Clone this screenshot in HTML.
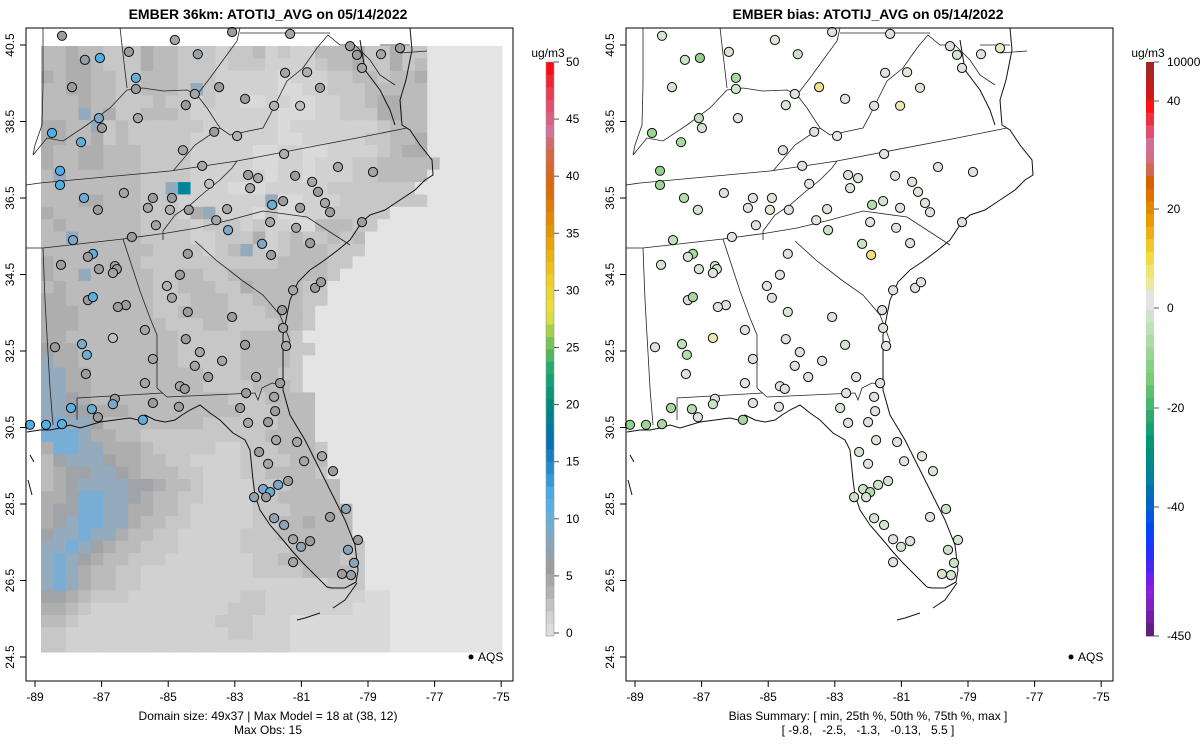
<!DOCTYPE html>
<html><head><meta charset="utf-8"><style>
body{margin:0;background:#fff}
svg{display:block;font-family:"Liberation Sans",sans-serif}
</style></head><body>
<svg id="root" width="1200" height="750" viewBox="0 0 1200 750" xmlns="http://www.w3.org/2000/svg">
<rect width="1200" height="750" fill="#fff"/>
<text x="268" y="19" text-anchor="middle" font-size="14" font-weight="bold">EMBER 36km: ATOTIJ_AVG on 05/14/2022</text>
<text x="868" y="19" text-anchor="middle" font-size="14" font-weight="bold">EMBER bias: ATOTIJ_AVG on 05/14/2022</text>
<g id="leftPanel"><g id="gridG"></g></g>
<g id="rightPanel" transform="translate(600,0)"></g>
<text x="268" y="720" text-anchor="middle" font-size="12">Domain size: 49x37 | Max Model = 18 at (38, 12)</text>
<text x="268" y="734" text-anchor="middle" font-size="12">Max Obs: 15</text>
<text x="868" y="720" text-anchor="middle" font-size="12">Bias Summary: [ min, 25th %, 50th %, 75th %, max ]</text>
<text x="868" y="734" text-anchor="middle" font-size="12" xml:space="preserve">[ -9.8,   -2.5,   -1.3,   -0.13,   5.5 ]</text>
<g id="cbLeft"></g>
<g id="cbRight"></g>
</svg>
<script>
const gridRows=[
"4454433354433323342322444533533","4455433354433323332222344533534","5455443344433322222122233443445","4455443344437322222112233344444",
"4445443334332322112211223345544","4447453344432222222111223335544","5544734333333222222122222223444","5544534333332222222112222233445",
"5445544433332222211221122223455","54455444333322222112212223344444","4744444433332222221221222334444","4444444433792221112222233333330",
"4445544433322222227112223333333","5444444433325722213112233333","4544444433332333232211444330","447444443333223335234334340",
"44444444433332347323444333","5444444433333333333444433","544744444334433444444443","45444444433444335444433",
"55444444433344433444433","5554444443344443334443","5554444444333443333443","554444444443333344443",
"6554444444433333444433","755444444443333344443","775544444444433344433","775544444444433334443",
"7765444444444443334444","7766555444444444333444","7877644444444333333444","8887554433333333334444",
"58877555433333223334443","46777655443322223333444","45667765444332223344443","456777766544322223334444",
"556887765443322223344444","5668877554432222233344444","5678877544332222233445444","6778775443322222333444444",
"77876544333222223333444443","78765443332222222334444433","78754433222222222333344443","7875443322222222222222233300",
"6654333222222222332222222211","5543222222222223332222222111","4432222222222233322211111111","3322222222222223322211111111",
"3322222222222222222211111111"];
const gridLevelColors=['#e4e4e4','#dadada','#d1d1d1','#c7c7c7','#bbbbbb','#aeaeae','#a0a4a8','#94aabd','#78aed6','#00859c'];
const siteLon=[-88.19,-87.05,-86.18,-87.50,-85.97,-85.97,-84.80,-83.08,-81.34,-79.54,-79.33,-79.18,-78.04,-78.61,-84.11,-81.49,-80.83,-80.44,-81.04,-81.82,-82.69,-83.47,-84.20,-84.47,-87.89,-88.49,-87.08,-87.62,-86.99,-85.91,-84.56,-83.62,-82.93,-83.98,-82.30,-81.52,-81.19,-80.68,-80.50,-79.90,-78.85,-79.18,-88.25,-88.25,-87.53,-87.11,-86.33,-85.46,-84.89,-85.61,-84.95,-85.37,-84.38,-83.77,-83.23,-82.60,-82.54,-81.88,-81.55,-81.94,-81.04,-80.29,-80.14,-86.09,-87.86,-87.26,-88.22,-87.41,-87.08,-86.60,-86.54,-84.41,-83.56,-83.20,-82.18,-81.91,-81.16,-80.74,-84.65,-84.89,-84.41,-85.04,-84.47,-84.05,-83.08,-82.69,-82.36,-81.25,-80.59,-81.58,-81.46,-80.41,-81.55,-83.38,-82.66,-88.40,-87.44,-87.59,-87.47,-87.41,-87.26,-86.27,-86.66,-86.51,-85.70,-85.46,-86.66,-86.60,-85.70,-84.65,-83.80,-82.84,-81.82,-81.64,-88.67,-88.19,-89.15,-87.29,-87.92,-86.66,-87.11,-85.76,-84.50,-84.20,-84.68,-85.46,-82.60,-82.27,-82.00,-82.15,-82.42,-81.94,-81.70,-82.06,-81.40,-80.92,-81.13,-82.00,-81.79,-81.76,-81.82,-81.52,-81.25,-81.01,-81.25,-80.74,-80.38,-80.05,-79.66,-79.60,-79.30,-79.42,-79.51,-79.78,-80.14];
const siteLat=[40.74,40.16,40.32,40.11,39.64,39.35,40.63,40.84,40.79,40.47,40.24,39.90,40.42,40.26,40.26,39.77,39.79,39.38,38.91,38.91,39.09,39.40,39.22,38.93,39.40,38.20,38.59,37.96,38.33,38.59,37.75,38.23,38.12,37.34,37.02,37.65,37.08,36.92,36.66,37.31,37.18,35.87,37.21,36.84,36.50,36.19,36.63,36.50,36.50,36.24,36.19,35.79,36.19,36.87,36.21,37.10,36.76,36.32,36.42,35.87,36.24,36.37,36.13,35.48,35.40,35.04,34.75,34.96,34.64,34.72,34.64,35.04,35.92,35.66,35.30,35.01,35.72,35.32,34.49,33.89,33.52,34.20,32.81,32.47,33.39,32.66,31.82,34.09,34.15,33.57,32.63,34.30,33.10,32.24,31.40,32.60,32.40,32.68,31.90,33.83,33.91,33.70,34.54,33.65,33.05,32.29,32.84,31.25,31.66,31.58,31.82,31.01,31.30,31.66,30.57,30.59,30.57,30.98,31.01,31.11,30.77,30.70,31.51,32.11,31.04,31.14,30.62,29.86,29.55,28.89,28.68,28.81,29.00,28.68,29.10,29.62,30.12,30.64,30.93,30.17,28.13,27.95,27.58,27.38,26.98,27.53,29.75,29.36,28.37,27.30,27.56,26.96,26.64,26.67,28.16];
const siteObs=[6,12,6,7,10,6,5,6,5,6,6,5,6,5,7,5,4,6,3,4,6,6,5,6,6,12,9,11,6,5,5,6,4,5,5,4,6,5,6,5,5,6,12,12,10,6,5,6,6,5,4,5,6,3,5,6,5,10,6,5,6,5,6,6,9,11,6,6,6,5,6,6,5,9,9,6,5,6,6,5,6,4,6,5,6,6,5,5,6,6,5,6,5,5,6,6,10,9,6,6,11,6,5,6,5,5,3,6,5,5,6,6,5,6,12,11,12,10,11,9,6,11,6,5,6,6,5,6,5,9,8,10,9,6,6,5,5,6,6,5,8,8,5,8,5,6,5,6,8,8,6,8,7,6,6];
const siteBias=[-2,-8,-1.5,-3,-6,-2,-1,-1.3,-1,-1.5,-2,-1,2,-1,-3,-1,0.5,-1,3,-1,-1,5,-1,-1.3,-2,-7,-4,-6,-2,-1,-1,-1,0,-1,-1,-0.5,-2,-1,-1,-1,-1,-1.5,-8,-7,-5,-2,-1,-1,-1,-1,1,-1,-1.3,0,-1,-2,-1,-5,-2,-1,-1.3,-1,-1,-1,-4,-6,-2,-1.3,-1.5,-1,-2,-1,-1,-3,-3,6,-1,-1.3,-1,-1,-1.3,-0.5,-1,-1,-1,-2,-1,-1,-1,-1.3,-1,-1,-1,-1,-1.3,-1,-5,-4,-1,-2,-6,-1.3,-1,-1,-1,-1,3,-1,-1,-1,-1,-1.3,-1,-1,-7,-6,-8,-5,-6,-3,-1,-6,-1.3,-1,-1,-1,-1,-2,-1,-3,-3,-5,-3,-1.5,-2,-1,-1,-1,-1,-1,-2,-2,-1,-2,-1,-1.3,-1,-1.5,-3,-3,-2,-3,-2,-2,-1];
const xTickLabels=[-89,-87,-85,-83,-81,-79,-77,-75];
const yTickLabels=[24.5,26.5,28.5,30.5,32.5,34.5,36.5,38.5,40.5];
const obsTicks=[0,5,10,15,20,25,30,35,40,45,50];
const biasTickLabels=['10000','40','20','0','-20','-40','-450'];
const biasTickValues=[10000,40,20,0,-20,-40,-450];

const NS='http://www.w3.org/2000/svg';
function mk(tag,attrs,parent){const e=document.createElementNS(NS,tag);for(const k in attrs)e.setAttribute(k,attrs[k]);parent.appendChild(e);return e;}
const px=lon=>35+(lon+89)*33.3;
const py=lat=>657-(lat-24.5)*38.25;

function hex(c){return [parseInt(c.slice(1,3),16),parseInt(c.slice(3,5),16),parseInt(c.slice(5,7),16)];}
function interp(stops,v){
  if(v<=stops[0][0])return stops[0][1];
  for(let i=1;i<stops.length;i++){if(v<=stops[i][0]){const a=stops[i-1],b=stops[i];const t=(v-a[0])/(b[0]-a[0]);const A=hex(a[1]),B=hex(b[1]);return 'rgb('+A.map((x,j)=>Math.round(x+(B[j]-x)*t)).join(',')+')';}}
  return stops[stops.length-1][1];
}
const obsStops=[[0,'#e2e2e2'],[2,'#cdcdcd'],[4,'#b0b0b0'],[6,'#9c9c9c'],[8,'#8da3b6'],[10,'#6aaed8'],[12,'#4fb0e8'],[14,'#2f92d2'],[17,'#0070b2'],[20,'#00877f'],[23,'#1aa870'],[26,'#8cc850'],[28,'#e6e442'],[31,'#f0cc26'],[35,'#e59a00'],[39,'#d86808'],[42,'#d46848'],[44,'#d0749a'],[47,'#e8405a'],[50,'#ff0000']];
const biasStops=[[-45,'#602080'],[-40,'#8a20d8'],[-35,'#3828ff'],[-30,'#0048f0'],[-25,'#0068c0'],[-20,'#008890'],[-17,'#00a070'],[-14,'#30b070'],[-11,'#60c470'],[-8,'#90d088'],[-5,'#b4dcac'],[-2.5,'#d0e4cc'],[-1,'#dee4dc'],[0,'#e4e4e4'],[2.5,'#ece6b8'],[5,'#eee48a'],[8,'#f0dc50'],[12,'#f0c828'],[16,'#e8a800'],[20,'#e08800'],[24,'#d86800'],[28,'#d06a50'],[32,'#d07090'],[36,'#e04868'],[40,'#ff1010'],[44,'#d01818'],[48,'#a02828']];

// grid
const gridG=document.getElementById('gridG');
const cw=12.46,ch=12.37;
gridRows.forEach((row,r)=>{
  for(let c=0;c<37;c++){
    const lvl=c<row.length?+row[c]:0;
    const cell=mk('rect',{x:(41+c*cw).toFixed(2),y:(46+r*ch).toFixed(2),width:cw+0.4,height:ch+0.4,fill:gridLevelColors[lvl]},gridG);
    
    
  }
});

const coast="M410,28 L412,50 L406,80 L400,100 L402,125 L410,130 L420,145 L432,160 L433,175 L425,180 L415,190 L400,200 L385,210 L370,215 L362,222 L350,240 L338,250 L322,262 L310,270 L298,282 L290,300 L286,320 L283,335 L283,360 L283,390 L290,415 L305,440 L315,460 L325,480 L335,500 L345,520 L355,545 L358,570 L356,582 L345,588 L332,588 L327,587 L315,575 L303,563 L293,552 L283,540 L270,525 L260,510 L255,495 L253,480 L250,450 L245,440 L233,433 L220,420 L210,413 L200,405 L190,410 L182,415 L175,420 L165,422 L155,420 L145,415 L138,420 L130,418 L115,420 L100,422 L90,425 L80,428 L70,425 L60,428 L50,430 L40,430 L27,432 M360,40 L365,70 L380,90 L390,110 L395,125 M357,583 L345,600 L333,608 M320,613 L305,618 L297,620 M28,480 L32,495 M30,455 L34,462";
const states="M26,185 L40,183 L170,171 L237,161 L357,138 L407,128 M26,248 L43,248 L123,239 L167,233 L197,228 L230,220 L263,211 L307,217 L350,245 M163,231 L175,215 L190,205 L205,192 L220,180 L232,168 L237,161 M195,241 L217,261 L243,281 L263,295 L280,315 L290,341 L285,350 M123,239 L140,291 L150,318 L157,335 L157,388 L167,397 L255,393 L258,400 L262,388 L272,383 L283,385 M43,248 L45,300 L50,388 L53,425 M77,420 L77,398 L163,393 M33,155 L47,138 L63,141 L87,125 L110,108 L127,90 L143,88 L163,91 L187,90 L197,95 L207,108 L220,128 L195,145 L173,171 M197,95 L210,78 L237,41 L240,28 M220,128 L230,135 L263,128 L270,115 L287,81 L303,68 L317,48 L328,35 L340,45 L355,45 L370,60 L380,75 L395,85 M43,28 L43,85 L42,125 L35,145 L33,155 M120,28 L127,88 M240,33 L330,33 M380,45 L410,45 M400,53 L427,51 M163,231 L163,240";

function drawPanel(g,isBias,pfx){
  const m=mk('g',{},g);
  
  
  const cl=mk('path',{d:coast,fill:'none',stroke:'#111','stroke-width':1},m);
  
  
  const st=mk('path',{d:states,fill:'none',stroke:'#222','stroke-width':0.8},m);
  
  
  const sg=mk('g',{},g);
  
  
  for(let i=0;i<siteLon.length;i++){
    const fill=isBias?interp(biasStops,siteBias[i]):interp(obsStops,siteObs[i]);
    const c=mk('circle',{cx:px(siteLon[i]).toFixed(1),cy:py(siteLat[i]).toFixed(1),r:4.6,fill:fill,stroke:'#111','stroke-width':1},sg);
    
    
  }
  const box=mk('rect',{x:26,y:28,width:487,height:653,fill:'none',stroke:'#000','stroke-width':1},g);
  
  
  xTickLabels.forEach(v=>{
    const x=px(v);
    const t=mk('line',{x1:x,x2:x,y1:681,y2:687,stroke:'#000'},g);
    
    
    const l=mk('text',{x:x,y:701,'text-anchor':'middle','font-size':12},g);l.textContent=v;
    
    
  });
  yTickLabels.forEach(v=>{
    const y=py(v);
    const t=mk('line',{x1:20,x2:26,y1:y,y2:y,stroke:'#000'},g);
    
    
    const l=mk('text',{x:14,y:y,'text-anchor':'middle','font-size':12,transform:'rotate(-90 14 '+y+')'},g);l.textContent=v.toFixed(1);
    
    
  });
  const d=mk('circle',{cx:471,cy:657,r:2.5,fill:'#000'},g);
  
  
  const lt=mk('text',{x:478,y:661,'font-size':12},g);lt.textContent='AQS';
  
  
}
drawPanel(document.getElementById('leftPanel'),false,'obs-');
drawPanel(document.getElementById('rightPanel'),true,'bias-');

// left colorbar
const cbL=document.getElementById('cbLeft');
const cbTop=62,cbBot=636,cbX=546,cbW=8;
const oy=v=>633-(v/50)*(633-62);
for(let k=0;k<46;k++){
  const v0=k*50/46;
  const b=mk('rect',{x:cbX,y:cbTop+(45-k)*(cbBot-cbTop)/46,width:cbW,height:(cbBot-cbTop)/46+0.4,fill:interp(obsStops,v0+0.5)},cbL);
  
  
}
mk('rect',{x:cbX,y:cbTop,width:cbW,height:cbBot-cbTop,fill:'none',stroke:'#999','stroke-width':0.6},cbL);
obsTicks.forEach(v=>{
  const y=oy(v);
  const t=mk('line',{x1:cbX+cbW,x2:cbX+cbW+5,y1:y,y2:y,stroke:'#555'},cbL);
  
  
  const l=mk('text',{x:566,y:y+4,'font-size':12},cbL);l.textContent=v;
  
  
});
const uL=mk('text',{x:548,y:57,'text-anchor':'middle','font-size':12},cbL);uL.textContent='ug/m3';



// right colorbar
const cbR=document.getElementById('cbRight');
const rX=1146;
const posBands=['#a02828','#b82020','#d01818','#ff1010','#f03040','#e05070','#d07098','#d07080','#d06a50','#d86000','#e07000','#e08800','#e89c00','#eab018','#f0c828','#f0dc40','#eee470','#ece898'];
const negBands=['#d0e4cc','#c0e0b8','#aedca4','#9cd494','#88d084','#78cc78','#60c070','#48b870','#30aa6c','#18a070','#009878','#009080','#008890','#0080a0','#0070b0','#0064c8','#0058e0','#0048f0','#1838ff','#2830f8','#4828f0','#7020e8','#8a20d8','#8420c0','#7020a0','#602080'];
function band(y,h,c){
  const b=mk('rect',{x:rX,y:y,width:cbW,height:h+0.4,fill:c},cbR);
  
  
}
const posH=(290-62)/posBands.length;
posBands.forEach((c,k)=>band(62+k*posH,posH,c));
band(290,20,'#e4e4e4');
const negH=(636-310)/negBands.length;
negBands.forEach((c,k)=>band(310+k*negH,negH,c));
const biasTickY=[62,101,209,308,408,507,636];
biasTickLabels.forEach((s,i)=>{
  const y=biasTickY[i];
  const t=mk('line',{x1:rX+cbW,x2:rX+cbW+5,y1:y,y2:y,stroke:'#555'},cbR);
  
  
  const l=mk('text',{x:1167,y:y+4,'font-size':12},cbR);l.textContent=s;
  
  
});
const uR=mk('text',{x:1148,y:57,'text-anchor':'middle','font-size':12},cbR);uR.textContent='ug/m3';


</script>
</body></html>
